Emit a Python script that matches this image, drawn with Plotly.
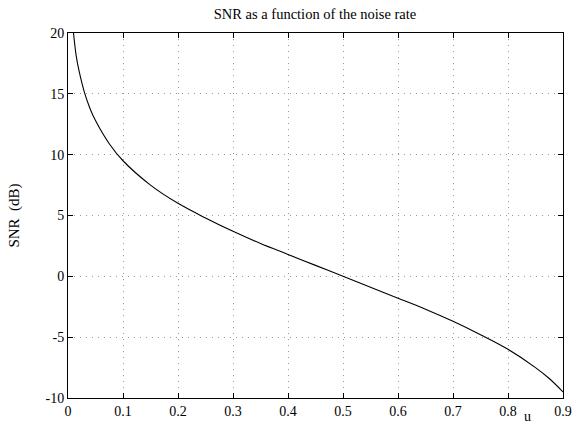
import plotly.graph_objects as go

u = [0.01, 0.015, 0.02, 0.03, 0.04, 0.05, 0.075, 0.1, 0.15, 0.2, 0.25, 0.3, 0.35, 0.4,
     0.45, 0.5, 0.55, 0.6, 0.65, 0.7, 0.75, 0.8, 0.85, 0.875, 0.9]
snr = [20.0, 18.1, 16.9, 15.1, 13.8, 12.8, 10.9, 9.5, 7.5, 6.0, 4.8, 3.7, 2.7, 1.8,
       0.9, 0.0, -0.9, -1.8, -2.7, -3.7, -4.8, -6.0, -7.5, -8.4, -9.5]

x_ticks = [0, 0.1, 0.2, 0.3, 0.4, 0.5, 0.6, 0.7, 0.8, 0.9]
x_labels = ["0", "0.1", "0.2", "0.3", "0.4", "0.5", "0.6", "0.7", "0.8", "0.9"]
y_ticks = [-10, -5, 0, 5, 10, 15, 20]
y_labels = ["-10", "-5", "0", "5", "10", "15", "20"]

font = "Liberation Serif, Times New Roman, serif"

W, H = 574, 427
L, R, T, B = 68, 11, 33, 29
pw, ph = W - L - R, H - T - B

fig = go.Figure()
fig.add_trace(go.Scatter(x=u, y=snr, mode="lines",
                         line=dict(color="black", width=1.1, shape="spline"),
                         showlegend=False, hoverinfo="skip"))

axis_common = dict(showline=True, linecolor="black", linewidth=1, mirror="allticks",
                   ticks="inside", ticklen=5, tickcolor="black", automargin=False,
                   showgrid=True, gridcolor="#999999", griddash="1px,5px", gridwidth=1,
                   zeroline=False, tickfont=dict(family=font, size=14, color="black"))

fig.update_layout(
    width=W, height=H,
    margin=dict(l=L, r=R, t=T, b=B),
    paper_bgcolor="white", plot_bgcolor="white",
    title=dict(text="SNR as a function of the noise rate", x=315 / W, xanchor="center",
               y=1 - 14 / H, yanchor="middle",
               font=dict(family=font, size=14.5, color="black")),
    xaxis=dict(range=[0, 0.9], tickvals=x_ticks, ticktext=x_labels, **axis_common),
    yaxis=dict(range=[-10, 20], tickvals=y_ticks, ticktext=y_labels,
               title=dict(text="SNR  (dB)", font=dict(family=font, size=15, color="black"), standoff=22),
               **axis_common),
    annotations=[dict(text="u", x=(527 - L) / pw, y=(H - B - 416) / ph, xref="paper", yref="paper",
                      showarrow=False, xanchor="center", yanchor="middle",
                      font=dict(family=font, size=14, color="black"))],
)

fig.write_html("out.html", config={"displayModeBar": False},
               post_script="document.body.style.margin='0';document.body.style.padding='0';")
